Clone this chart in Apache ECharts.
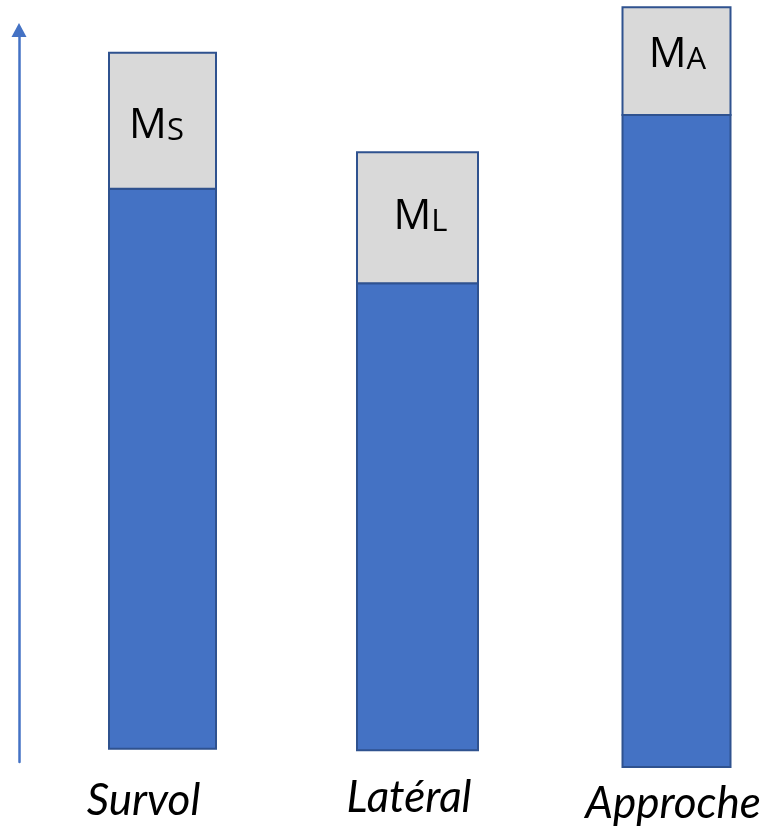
<!DOCTYPE html>
<html><head><meta charset="utf-8">
<script src="https://cdn.jsdelivr.net/npm/echarts@6/dist/echarts.min.js"></script>
<style>html,body{margin:0;padding:0;background:#fff}#c{width:775px;height:828px}</style>
</head><body><div id="c"></div>
<script>
// ---- data ----
const categories = ['Survol', 'Latéral', 'Approche'];
const baseLevel = [1.8, 1.6, -0.7];      // bottom of each bar
const mainValue = [76.5, 63.8, 89.1];    // blue segment
const marginValue = [18.6, 17.9, 14.7];  // grey segment (margin)
const marginMain = ['M', 'M', 'M'];
const marginSub = ['S', 'L', 'A'];

// ---- layout / style (not data) ----
const layout = {
  barWidth: [107, 121, 108],
  barDx: [0, -2, 0],
  innerDx: [-6, 3, 1],
  innerDy: [5, -1, -6.5],
  labelDx: [-19, -10.5, -3.5],
  labelDy: [39, 35.5, 41.5]
};

const chart = echarts.init(document.getElementById('c'), null, {renderer: 'canvas'});

function renderItem(params, api) {
  const i = params.dataIndex;
  const base = api.value(1), main = api.value(2), margin = api.value(3);
  const p0 = api.coord([i, base]);
  const p1 = api.coord([i, base + main]);
  const p2 = api.coord([i, base + main + margin]);
  const pz = api.coord([i, 0]);
  const w = layout.barWidth[i];
  const cx = p0[0] + layout.barDx[i];
  const x0 = cx - w / 2;
  return {
    type: 'group',
    children: [
      {type: 'rect', shape: {x: x0, y: p1[1], width: w, height: p0[1] - p1[1]},
       style: {fill: '#4472C4', stroke: '#2F528F', lineWidth: 2}},
      {type: 'rect', shape: {x: x0, y: p2[1], width: w, height: p1[1] - p2[1]},
       style: {fill: '#D9D9D9', stroke: '#2F528F', lineWidth: 2}},
      {type: 'text', style: {
        text: '{m|' + marginMain[i] + '}{s|' + marginSub[i] + '}',
        x: cx + layout.innerDx[i], y: (p1[1] + p2[1]) / 2 + layout.innerDy[i],
        align: 'center', verticalAlign: 'middle',
        rich: {
          m: {fontFamily: 'Open Sans', fontSize: 42, fill: '#000', verticalAlign: 'bottom'},
          s: {fontFamily: 'Open Sans', fontSize: 31, fill: '#000', verticalAlign: 'bottom'}
        }
      }},
      {type: 'text', style: {
        text: categories[i],
        x: pz[0] + layout.labelDx[i], y: pz[1] + layout.labelDy[i],
        align: 'center', verticalAlign: 'middle',
        fontFamily: 'Lato', fontStyle: 'italic', fontSize: 44, fill: '#000'
      }}
    ]
  };
}

chart.setOption({
  animation: false,
  backgroundColor: '#fff',
  grid: {left: 162.5, top: 30, width: 514, bottom: 66},
  xAxis: {type: 'category', data: categories, show: false, boundaryGap: false},
  yAxis: {
    type: 'value', min: 0, max: 100, position: 'left', offset: 143.5,
    axisLine: {show: true, lineStyle: {color: '#4472C4', width: 2.5},
               symbol: ['none', 'triangle'], symbolSize: [15, 14]},
    axisTick: {show: false}, axisLabel: {show: false}, splitLine: {show: false}
  },
  series: [{
    type: 'custom',
    clip: false,
    renderItem: renderItem,
    encode: {x: 0, y: 1},
    data: categories.map((c, i) => [i, baseLevel[i], mainValue[i], marginValue[i]])
  }]
});
</script>
</body></html>
